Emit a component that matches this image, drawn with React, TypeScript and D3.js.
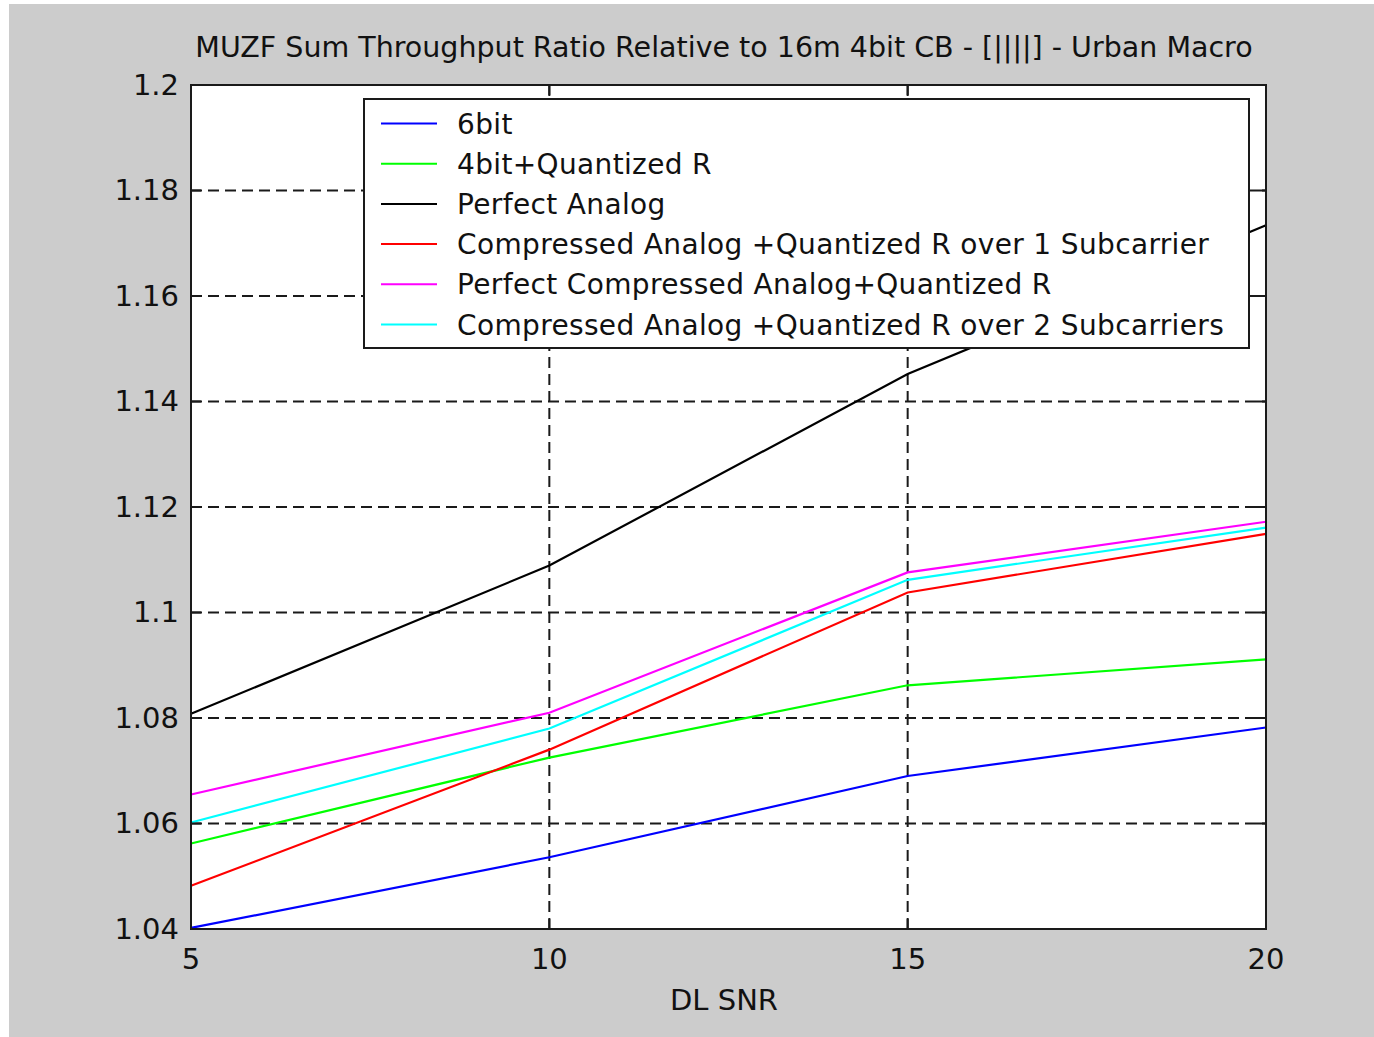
import React, { useRef, useEffect } from "react";
import * as d3 from "d3";

// DL SNR points
const snr = [5, 10, 15, 20];

// series values
const sixBit = [1.0402, 1.0536, 1.069, 1.0782];
const fourBitQuantR = [1.0562, 1.0725, 1.0862, 1.0911];
const perfectAnalog = [1.0808, 1.1089, 1.1452, 1.1734];
const compressedOver1 = [1.0482, 1.074, 1.1038, 1.1149];
const perfectCompressed = [1.0655, 1.081, 1.1076, 1.1172];
const compressedOver2 = [1.0602, 1.078, 1.1062, 1.1161];

const seriesNames = [
  "6bit",
  "4bit+Quantized R",
  "Perfect Analog",
  "Compressed Analog +Quantized R over 1 Subcarrier",
  "Perfect Compressed Analog+Quantized R",
  "Compressed Analog +Quantized R over 2 Subcarriers",
];
const seriesValues = [
  sixBit,
  fourBitQuantR,
  perfectAnalog,
  compressedOver1,
  perfectCompressed,
  compressedOver2,
];
const seriesColors = ["#0000ff", "#00ff00", "#000000", "#ff0000", "#ff00ff", "#00ffff"];

const xTicks = [5, 10, 15, 20];
const yTicks = [1.04, 1.06, 1.08, 1.1, 1.12, 1.14, 1.16, 1.18, 1.2];

const title = "MUZF Sum Throughput Ratio Relative to 16m 4bit CB - [||||] - Urban Macro";
const xLabel = "DL SNR";

const App = () => {
  const ref = useRef<SVGSVGElement | null>(null);

  useEffect(() => {
    if (!ref.current) return;
    const svg = d3.select(ref.current);
    svg.selectAll("*").remove();

    const width = 1374;
    const height = 1037;
    const font = "'DejaVu Sans', sans-serif";

    // figure background
    svg.append("rect").attr("width", width).attr("height", height).attr("fill", "#ffffff");
    svg
      .append("rect")
      .attr("x", 9)
      .attr("y", 4)
      .attr("width", width - 9)
      .attr("height", height - 4)
      .attr("fill", "#cccccc");

    const left = 191;
    const right = 1266;
    const top = 85;
    const bottom = 929;

    const x = d3.scaleLinear().domain([5, 20]).range([left, right]);
    const y = d3.scaleLinear().domain([1.04, 1.2]).range([bottom, top]);

    // axes area
    svg
      .append("rect")
      .attr("x", left)
      .attr("y", top)
      .attr("width", right - left)
      .attr("height", bottom - top)
      .attr("fill", "#ffffff");

    // dashed grid
    const grid = svg.append("g").attr("stroke", "#1a1a1a").attr("stroke-width", 2).attr("stroke-dasharray", "11,6");
    grid
      .selectAll("line.gx")
      .data(xTicks.slice(1, -1))
      .enter()
      .append("line")
      .attr("x1", (d) => x(d))
      .attr("x2", (d) => x(d))
      .attr("y1", top)
      .attr("y2", bottom);
    grid
      .selectAll("line.gy")
      .data(yTicks.slice(1, -1))
      .enter()
      .append("line")
      .attr("x1", left)
      .attr("x2", right)
      .attr("y1", (d) => y(d))
      .attr("y2", (d) => y(d));

    // data lines
    const line = d3
      .line<number>()
      .x((_, i) => x(snr[i]))
      .y((d) => y(d));
    svg
      .append("g")
      .selectAll("path")
      .data(seriesValues)
      .enter()
      .append("path")
      .attr("d", (d) => line(d))
      .attr("fill", "none")
      .attr("stroke", (_, i) => seriesColors[i])
      .attr("stroke-width", 2.2);

    // ticks (inward on all four sides)
    const tickLen = 10;
    const ticks = svg.append("g").attr("stroke", "#1a1a1a").attr("stroke-width", 2);
    xTicks.forEach((t) => {
      ticks.append("line").attr("x1", x(t)).attr("x2", x(t)).attr("y1", bottom).attr("y2", bottom - tickLen);
      ticks.append("line").attr("x1", x(t)).attr("x2", x(t)).attr("y1", top).attr("y2", top + tickLen);
    });
    yTicks.forEach((t) => {
      ticks.append("line").attr("x1", left).attr("x2", left + tickLen).attr("y1", y(t)).attr("y2", y(t));
      ticks.append("line").attr("x1", right).attr("x2", right - tickLen).attr("y1", y(t)).attr("y2", y(t));
    });

    // frame
    svg
      .append("rect")
      .attr("x", left)
      .attr("y", top)
      .attr("width", right - left)
      .attr("height", bottom - top)
      .attr("fill", "none")
      .attr("stroke", "#1a1a1a")
      .attr("stroke-width", 2);

    // tick labels
    svg
      .append("g")
      .selectAll("text")
      .data(yTicks)
      .enter()
      .append("text")
      .attr("x", left - 12)
      .attr("y", (d) => y(d))
      .attr("dy", "0.34em")
      .attr("text-anchor", "end")
      .attr("font-family", font)
      .attr("font-size", 29)
      .attr("fill", "#111")
      .text((d) => String(+d.toFixed(2)));
    svg
      .append("g")
      .selectAll("text")
      .data(xTicks)
      .enter()
      .append("text")
      .attr("x", (d) => x(d))
      .attr("y", 969)
      .attr("text-anchor", "middle")
      .attr("font-family", font)
      .attr("font-size", 29)
      .attr("fill", "#111")
      .text((d) => String(d));

    // title and x label
    svg
      .append("text")
      .attr("x", 724)
      .attr("y", 57)
      .attr("text-anchor", "middle")
      .attr("font-family", font)
      .attr("font-size", 28.5)
      .attr("fill", "#111")
      .text(title);
    svg
      .append("text")
      .attr("x", 724)
      .attr("y", 1010)
      .attr("text-anchor", "middle")
      .attr("font-family", font)
      .attr("font-size", 29)
      .attr("fill", "#111")
      .text(xLabel);

    // legend
    const lg = svg.append("g");
    lg.append("rect")
      .attr("x", 364)
      .attr("y", 99)
      .attr("width", 1249 - 364)
      .attr("height", 348 - 99)
      .attr("fill", "#ffffff")
      .attr("stroke", "#1a1a1a")
      .attr("stroke-width", 2);
    const rowY = d3.scaleLinear().domain([0, seriesNames.length - 1]).range([123.5, 324.5]);
    seriesNames.forEach((name, i) => {
      lg.append("line")
        .attr("x1", 381)
        .attr("x2", 437)
        .attr("y1", rowY(i))
        .attr("y2", rowY(i))
        .attr("stroke", seriesColors[i])
        .attr("stroke-width", 2);
      lg.append("text")
        .attr("x", 457)
        .attr("y", rowY(i))
        .attr("dy", "0.36em")
        .attr("font-family", font)
        .attr("font-size", 28)
        .attr("letter-spacing", 0.35)
        .attr("fill", "#111")
        .text(name);
    });
  }, []);

  return (
    <svg
      ref={ref}
      width={1374}
      height={1037}
      style={{ position: "absolute", left: 0, top: 0, display: "block" }}
    />
  );
};

export default App;
